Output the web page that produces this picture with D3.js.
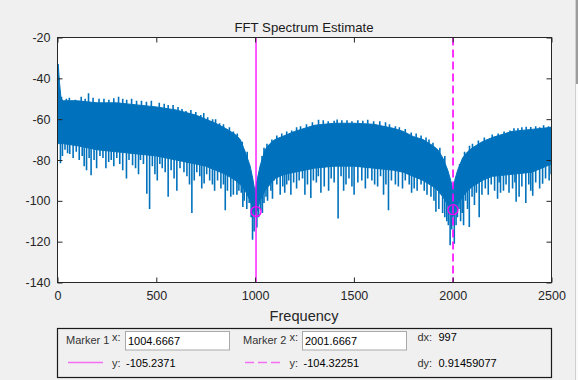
<!DOCTYPE html>
<html>
<head>
<meta charset="utf-8">
<script src="https://cdn.jsdelivr.net/npm/d3@7"></script>
<style>
  html, body { margin: 0; padding: 0; background: #f0f0f0; }
  svg { display: block; }
  text { font-family: "Liberation Sans", Arial, Helvetica, sans-serif; }
</style>
</head>
<body>
<svg id="chart" width="578" height="380"></svg>
<script>
// ---------------- DATA ----------------
const titleText = "FFT Spectrum Estimate";
const xLabelText = "Frequency";
const xTicks = [0, 500, 1000, 1500, 2000, 2500];
const yTicks = [-140, -120, -100, -80, -60, -40, -20];

// frequency grid of the spectrum band envelope
const bandFreq = [0, 5, 10, 18, 30, 100, 200, 300, 400, 500, 600, 700, 750, 800, 850, 900, 925, 950, 975, 990, 1000, 1010, 1025, 1050, 1075, 1100, 1150, 1200, 1300, 1400, 1500, 1600, 1700, 1750, 1800, 1850, 1900, 1925, 1950, 1975, 1990, 2000, 2010, 2025, 2050, 2075, 2100, 2150, 2200, 2300, 2400, 2500];
// upper edge of the dense noisy band (dB)
const bandTop = [-34, -35, -42, -50, -51, -51, -52, -52, -53, -54, -55.5, -58, -60, -62, -64.5, -67.5, -70, -76, -83, -90, -96, -90, -83, -75, -72, -70, -68, -66, -63, -62, -62, -62.5, -64.5, -66, -68.5, -70, -73, -75, -79, -85, -90, -94, -90, -85, -79, -76, -74, -71, -69, -66, -65, -64];
// lower edge of the dense part of the band (dB)
const bandFloor = [-70, -72, -72, -72, -72, -73, -75, -76, -77, -78, -80, -82, -83, -85, -87, -90, -92, -95, -100, -104, -107, -105, -100, -95, -92, -89, -87, -86, -84, -83, -83, -84, -85, -86, -88, -90, -93, -95, -98, -102, -106, -108, -106, -102, -98, -95, -93, -90, -88, -87, -86, -82];

// upward noise peaks above the band
const peakFreq = [3, 8, 20, 45, 60, 75, 90, 120, 140, 157, 180, 210, 235, 260, 285, 309, 330, 350, 375, 400, 425, 450, 475, 515, 540, 560, 585, 610, 630, 650, 675, 700, 725, 740, 760, 785, 800, 820, 840, 870, 890, 910, 935, 960, 1035, 1045, 1060, 1085, 1110, 1135, 1160, 1185, 1210, 1230, 1260, 1290, 1321, 1345, 1370, 1400, 1415, 1439, 1465, 1490, 1520, 1545, 1570, 1600, 1631, 1660, 1680, 1710, 1730, 1760, 1790, 1815, 1840, 1865, 1880, 1900, 1935, 1960, 2035, 2060, 2085, 2100, 2130, 2160, 2200, 2230, 2260, 2290, 2310, 2330, 2350, 2372, 2395, 2420, 2440, 2460, 2485, 2500];
const peakLevel = [-33, -40, -49, -50, -49.5, -51, -50.5, -49, -50, -47.3, -49.5, -50, -50, -50.5, -49.8, -49, -50, -50.5, -50, -51, -51, -51.5, -51, -52, -52.5, -53, -53, -54, -55, -56, -55.5, -56.5, -58, -57, -59, -60, -60, -62, -62.5, -64, -66, -67, -71, -76, -78, -74, -72, -70, -68, -67, -66, -65.5, -64, -63.5, -62.5, -61.5, -60.3, -60.5, -61, -60.8, -60.2, -60.5, -60.5, -61, -60.5, -60.8, -60.3, -61, -61, -61.5, -62.5, -63.5, -64, -64.8, -66.5, -67, -68, -69, -70, -71.5, -74, -78, -82, -76, -73, -72, -70.5, -69, -67.5, -67, -66, -65.5, -64.5, -64.5, -64, -63.7, -63.8, -63.5, -64, -63, -63.5, -63.5];

// downward noise spikes below the band
const dipFreq = [15, 25, 38, 51, 62, 79, 95, 110, 125, 135, 147, 160, 170, 185, 198, 215, 230, 245, 259, 272, 285, 300, 315, 330, 349, 362, 380, 395, 410, 420, 435, 452, 466, 480, 493, 505, 518, 530, 545, 560, 575, 590, 604, 620, 640, 655, 668, 680, 692, 705, 720, 730, 742, 755, 770, 784, 795, 810, 827, 840, 849, 860, 877, 890, 908, 918, 930, 938, 945, 958, 970, 980, 987, 995, 1009, 1018, 1029, 1037, 1045, 1055, 1063, 1080, 1088, 1097, 1110, 1127, 1140, 1150, 1160, 1170, 1181, 1195, 1210, 1223, 1240, 1252, 1265, 1282, 1295, 1310, 1320, 1333, 1350, 1372, 1385, 1400, 1420, 1435, 1448, 1460, 1475, 1490, 1501, 1520, 1540, 1558, 1570, 1591, 1605, 1620, 1635, 1650, 1662, 1675, 1690, 1710, 1725, 1746, 1760, 1780, 1792, 1805, 1820, 1840, 1856, 1870, 1890, 1905, 1915, 1930, 1949, 1960, 1970, 1978, 1987, 1995, 2008, 2017, 2024, 2032, 2040, 2048, 2055, 2065, 2075, 2084, 2098, 2110, 2120, 2134, 2148, 2165, 2180, 2195, 2212, 2227, 2235, 2242, 2257, 2270, 2285, 2303, 2315, 2321, 2336, 2350, 2370, 2385, 2395, 2405, 2420, 2440, 2455, 2470, 2488, 2498];
const dipLevel = [-81.6, -78, -75, -76.7, -77, -79, -76, -80, -78, -83, -85, -79, -87.5, -80, -84, -78, -79, -84, -81, -80, -83, -79, -82, -85, -89, -80, -82.6, -84, -87, -80, -82, -96.5, -104, -83, -87, -90, -82, -84, -86, -98, -85, -89, -95, -84, -86, -88, -92, -106, -90, -86, -88, -94, -91.5, -87, -90, -92, -95, -90, -94, -92, -104.6, -95, -98, -97, -97, -95, -96, -103, -100, -104, -101, -108, -119, -115, -113, -108, -104.6, -106, -101, -98, -100, -95, -99, -90, -92, -97, -93, -96, -92, -90, -97, -91, -94, -90, -89, -97, -92, -98.6, -90, -91, -88, -96, -93, -95, -89, -91, -108.6, -88, -95, -92, -89, -93, -97, -91, -90, -94, -89, -90, -92, -93, -88, -97, -92, -104.6, -90, -92, -93, -94, -90, -92, -96, -94, -95, -92, -95, -97, -98, -100, -105.4, -104, -106, -108, -110, -112, -121.7, -114, -121, -112, -108, -104, -110, -106, -112, -100, -104, -112.8, -98, -102, -96, -108, -97, -94, -97, -92, -95, -99, -91, -96, -95, -92, -96, -94, -91, -100.5, -98, -93, -101, -92, -95, -97.5, -91, -94, -91.6, -89, -90, -87];

// data cursors
const markerNames = ["Marker 1", "Marker 2"];
const markerX = [1004.6667, 2001.6667];
const markerY = [-105.2371, -104.32251];
const markerXText = ["1004.6667", "2001.6667"];
const markerYText = ["-105.2371", "-104.32251"];
const dxText = "997";
const dyText = "0.91459077";

// ---------------- DRAWING ----------------
const svg = d3.select("#chart");
const W = 578, H = 380;
const plot = { left: 57.5, right: 551.5, top: 37.5, bottom: 282.5 };
const blue = "#0072BD", magenta = "#FF00FF", axisCol = "#262626";

svg.append("rect").attr("width", W).attr("height", H).attr("fill", "#f0f0f0");

const x = d3.scaleLinear().domain([0, 2500]).range([plot.left, plot.right]);
const y = d3.scaleLinear().domain([-140, -20]).range([plot.bottom, plot.top]);

svg.append("rect")
  .attr("x", plot.left).attr("y", plot.top)
  .attr("width", plot.right - plot.left).attr("height", plot.bottom - plot.top)
  .attr("fill", "#ffffff");

svg.append("defs").append("clipPath").attr("id", "clip")
  .append("rect")
  .attr("x", plot.left).attr("y", plot.top)
  .attr("width", plot.right - plot.left).attr("height", plot.bottom - plot.top);

const g = svg.append("g").attr("clip-path", "url(#clip)");

const floorAt = d3.scaleLinear().domain(bandFreq).range(bandFloor);
const topAt = d3.scaleLinear().domain(bandFreq).range(bandTop);

const band = bandFreq.map((f, i) => ({ f, t: bandTop[i], b: bandFloor[i] }));
g.append("path")
  .datum(band)
  .attr("d", d3.area().x(d => x(d.f)).y0(d => y(d.b)).y1(d => y(d.t)))
  .attr("fill", blue)
  .attr("stroke", blue)
  .attr("stroke-width", 1)
  .attr("stroke-linejoin", "round");

g.selectAll("line.peak")
  .data(peakFreq.map((f, i) => ({ f, v: peakLevel[i] })))
  .join("line")
  .attr("class", "peak")
  .attr("x1", d => x(d.f)).attr("x2", d => x(d.f))
  .attr("y1", d => y(topAt(d.f)) + 3).attr("y2", d => y(d.v))
  .attr("stroke", blue).attr("stroke-width", 1.6);

g.selectAll("line.dip")
  .data(dipFreq.map((f, i) => ({ f, v: dipLevel[i] })))
  .join("line")
  .attr("class", "dip")
  .attr("x1", d => x(d.f)).attr("x2", d => x(d.f))
  .attr("y1", d => y(floorAt(d.f)) - 3).attr("y2", d => y(d.v))
  .attr("stroke", blue).attr("stroke-width", 1.6);

g.append("line")
  .attr("x1", x(markerX[0])).attr("x2", x(markerX[0]))
  .attr("y1", plot.top).attr("y2", plot.bottom)
  .attr("stroke", magenta).attr("stroke-width", 1.3);
g.append("line")
  .attr("x1", x(markerX[1])).attr("x2", x(markerX[1]))
  .attr("y1", plot.top).attr("y2", plot.bottom)
  .attr("stroke", magenta).attr("stroke-width", 1.6)
  .attr("stroke-dasharray", "8,4");

g.selectAll("circle.mk")
  .data(markerX.map((mx, i) => ({ mx, my: markerY[i] })))
  .join("circle")
  .attr("class", "mk")
  .attr("cx", d => x(d.mx)).attr("cy", d => y(d.my))
  .attr("r", 5)
  .attr("fill", "none").attr("stroke", magenta).attr("stroke-width", 1.3);

const fontSize = "12.5px";
const xAxis = svg.append("g")
  .attr("transform", `translate(0,${plot.bottom})`)
  .call(d3.axisBottom(x).tickValues(xTicks).tickSize(-5).tickPadding(9).tickFormat(d3.format("d")));
const xAxisTop = svg.append("g")
  .attr("transform", `translate(0,${plot.top})`)
  .call(d3.axisTop(x).tickValues(xTicks).tickSize(-5).tickFormat(""));
const yAxis = svg.append("g")
  .attr("transform", `translate(${plot.left},0)`)
  .call(d3.axisLeft(y).tickValues(yTicks).tickSize(-5).tickPadding(7).tickFormat(d => String(d)));
const yAxisRight = svg.append("g")
  .attr("transform", `translate(${plot.right},0)`)
  .call(d3.axisRight(y).tickValues(yTicks).tickSize(-5).tickFormat(""));

[xAxis, xAxisTop, yAxis, yAxisRight].forEach(a => {
  a.select(".domain").remove();
  a.selectAll(".tick line").attr("stroke", axisCol).attr("stroke-width", 1);
  a.selectAll(".tick text")
    .attr("fill", axisCol)
    .style("font-size", fontSize)
    .style("font-family", '"Liberation Sans", Arial, sans-serif');
});

svg.append("rect")
  .attr("x", plot.left).attr("y", plot.top)
  .attr("width", plot.right - plot.left).attr("height", plot.bottom - plot.top)
  .attr("fill", "none").attr("stroke", axisCol).attr("stroke-width", 1);

svg.append("text")
  .attr("x", 304).attr("y", 32)
  .attr("text-anchor", "middle")
  .style("font-size", "13.2px")
  .attr("fill", "#1a1a1a")
  .text(titleText);

svg.append("text")
  .attr("x", 304).attr("y", 321)
  .attr("text-anchor", "middle")
  .style("font-size", "14.6px")
  .attr("fill", axisCol)
  .text(xLabelText);

// ---------------- cursor info panel ----------------
const panel = svg.append("g");
panel.append("rect")
  .attr("x", 57.5).attr("y", 328.5).attr("width", 494).attr("height", 49)
  .attr("fill", "#f0f0f0").attr("stroke", "#1a1a1a").attr("stroke-width", 1.2);

const labCol = "#333333", valCol = "#000000", pFont = "11px";
function ptext(px, py, t, col) {
  panel.append("text").attr("x", px).attr("y", py)
    .style("font-size", pFont).attr("fill", col || labCol).text(t);
}
const boxX = [125.5, 302.5];
const nameX = [66, 243];
const xColonX = [112, 289.5];
markerNames.forEach((n, i) => {
  ptext(nameX[i], 344, n);
  ptext(xColonX[i], 340.5, "x:");
  panel.append("rect")
    .attr("x", boxX[i]).attr("y", 331.5).attr("width", 104).attr("height", 18.5)
    .attr("fill", "#ffffff").attr("stroke", "#a9a9a9").attr("stroke-width", 1);
  ptext(boxX[i] + 2.5, 345, markerXText[i], valCol);
});
ptext(417.5, 341, "dx:");
ptext(438.5, 341, dxText, valCol);

panel.append("line").attr("x1", 68).attr("x2", 103).attr("y1", 362.5).attr("y2", 362.5)
  .attr("stroke", "#f46ef4").attr("stroke-width", 1.5);
panel.append("line").attr("x1", 245).attr("x2", 281).attr("y1", 362.5).attr("y2", 362.5)
  .attr("stroke", "#f46ef4").attr("stroke-width", 1.5).attr("stroke-dasharray", "9,4");
ptext(112, 366.5, "y:");
ptext(126, 366.5, markerYText[0], valCol);
ptext(289.5, 366.5, "y:");
ptext(303.5, 366.5, markerYText[1], valCol);
ptext(417.5, 366.5, "dy:");
ptext(438.5, 366.5, dyText, valCol);

svg.append("rect").attr("x", 575).attr("y", 0).attr("width", 3).attr("height", 380).attr("fill", "#fafafa");
svg.append("rect").attr("x", 575).attr("y", 0).attr("width", 3).attr("height", 84).attr("fill", "#9c9c9c");
svg.append("line").attr("x1", 575.5).attr("x2", 575.5).attr("y1", 0).attr("y2", 380).attr("stroke", "#cfcfcf");
</script>
</body>
</html>
